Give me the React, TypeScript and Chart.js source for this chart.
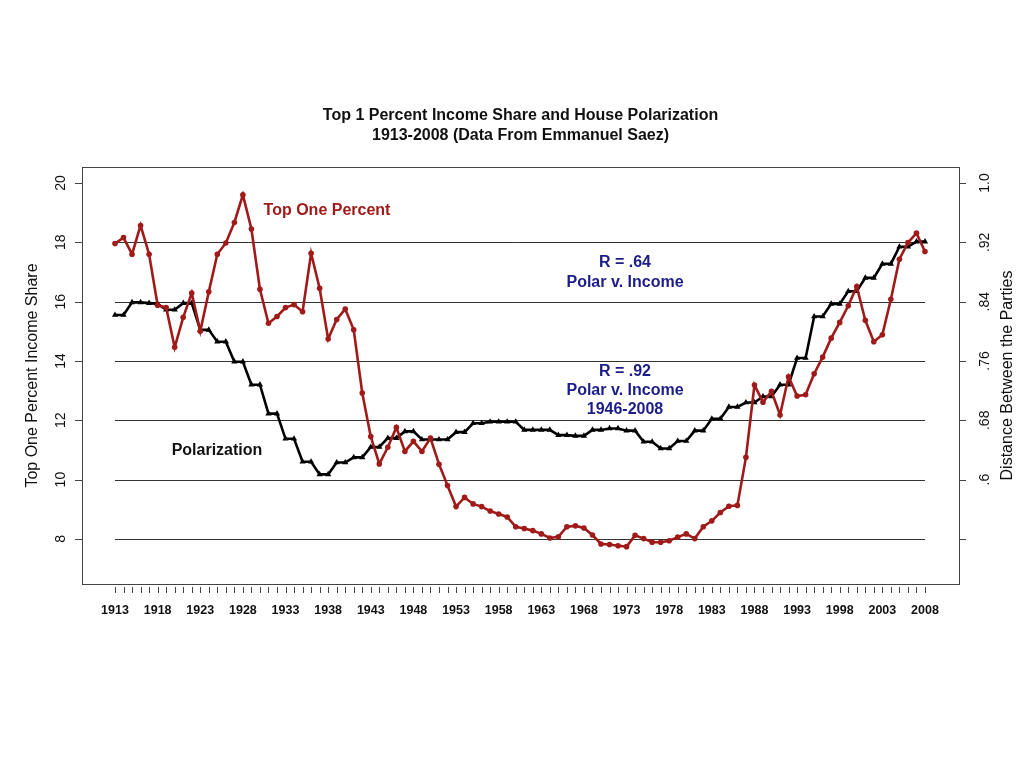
import React, { useEffect, useRef } from "react";
import { Chart, registerables } from "chart.js";

Chart.register(...registerables);

// ---- Data ----
const years: number[] = [];
for (let y = 1913; y <= 2008; y++) years.push(y);

const topOnePercent: number[] = [
  17.96, 18.16, 17.6, 18.57, 17.6, 15.88, 15.8, 14.46, 15.47, 16.29,
  15.0, 16.33, 17.6, 17.98, 18.67, 19.6, 18.45, 16.42, 15.27, 15.5,
  15.8, 15.9, 15.66, 17.63, 16.45, 14.74, 15.4, 15.75, 15.05, 12.92,
  11.45, 10.53, 11.09, 11.76, 10.95, 11.29, 10.95, 11.4, 10.52, 9.8,
  9.09, 9.4, 9.18, 9.09, 8.94, 8.84, 8.74, 8.41, 8.35, 8.28,
  8.17, 8.03, 8.07, 8.41, 8.44, 8.37, 8.13, 7.83, 7.81, 7.77,
  7.74, 8.12, 8.01, 7.89, 7.89, 7.94, 8.06, 8.17, 8.01, 8.41,
  8.61, 8.89, 9.1, 9.13, 10.75, 13.19, 12.61, 12.98, 12.18, 13.47,
  12.82, 12.86, 13.57, 14.13, 14.77, 15.3, 15.86, 16.51, 15.37, 14.65,
  14.88, 16.08, 17.43, 17.99, 18.31, 17.69,
];

// Distance between the parties (House), one value per year
const polarization: number[] = [
  0.822, 0.822, 0.839, 0.839, 0.838, 0.837, 0.829, 0.829, 0.838, 0.838,
  0.802, 0.802, 0.786, 0.786, 0.759, 0.759, 0.728, 0.728, 0.689, 0.689,
  0.655, 0.655, 0.624, 0.624, 0.607, 0.607, 0.623, 0.623, 0.630, 0.630,
  0.644, 0.644, 0.656, 0.656, 0.665, 0.665, 0.654, 0.654, 0.654, 0.654,
  0.664, 0.664, 0.676, 0.676, 0.678, 0.678, 0.678, 0.678, 0.667, 0.667,
  0.667, 0.667, 0.660, 0.660, 0.659, 0.659, 0.667, 0.667, 0.669, 0.669,
  0.666, 0.666, 0.651, 0.651, 0.642, 0.642, 0.652, 0.652, 0.666, 0.666,
  0.682, 0.682, 0.698, 0.698, 0.704, 0.704, 0.712, 0.712, 0.728, 0.728,
  0.764, 0.764, 0.820, 0.820, 0.837, 0.837, 0.854, 0.854, 0.872, 0.872,
  0.891, 0.891, 0.914, 0.914, 0.921, 0.921,
];

const xTickLabels: number[] = [1913, 1918, 1923, 1928, 1933, 1938, 1943, 1948, 1953, 1958, 1963, 1968, 1973, 1978, 1983, 1988, 1993, 1998, 2003, 2008];
const leftTicks: number[] = [8, 10, 12, 14, 16, 18, 20];
const gridValues: number[] = [8, 10, 12, 14, 16, 18];
const rightTicks: number[] = [0.52, 0.6, 0.68, 0.76, 0.84, 0.92, 1.0];
const rightTickLabels: string[] = ["", ".6", ".68", ".76", ".84", ".92", "1.0"];

const RED = "#a11a1a";
const NAVY = "#1c1c8a";
const FONT = "'Liberation Sans', Arial, sans-serif";

const overlay = {
  id: "overlay",
  beforeDatasetsDraw(chart: any) {
    const { ctx, scales } = chart;
    const x = scales.x;
    const y = scales.y;
    ctx.save();
    ctx.strokeStyle = "#333";
    ctx.lineWidth = 1;
    const x0 = x.getPixelForValue(years[0]);
    const x1 = x.getPixelForValue(years[years.length - 1]);
    gridValues.forEach((v) => {
      const py = Math.round(y.getPixelForValue(v)) + 0.5;
      ctx.beginPath();
      ctx.moveTo(x0, py);
      ctx.lineTo(x1, py);
      ctx.stroke();
    });
    ctx.restore();
  },
  afterDraw(chart: any) {
    const { ctx, scales, chartArea } = chart;
    const x = scales.x;
    const y = scales.y;
    const y2 = scales.y2;
    const { left, right, top, bottom } = chartArea;
    ctx.save();
    // box
    ctx.strokeStyle = "#444";
    ctx.lineWidth = 1;
    ctx.strokeRect(left + 0.5, top + 0.5, right - left, bottom - top);

    // x ticks
    ctx.beginPath();
    years.forEach((yr) => {
      const px = Math.round(x.getPixelForValue(yr)) + 0.5;
      ctx.moveTo(px, bottom + 3);
      ctx.lineTo(px, bottom + 9);
    });
    ctx.stroke();
    ctx.fillStyle = "#111";
    ctx.font = `bold 12.5px ${FONT}`;
    ctx.textAlign = "center";
    ctx.textBaseline = "middle";
    xTickLabels.forEach((yr) => {
      ctx.fillText(String(yr), x.getPixelForValue(yr), bottom + 27);
    });

    // left ticks
    ctx.beginPath();
    leftTicks.forEach((v) => {
      const py = Math.round(y.getPixelForValue(v)) + 0.5;
      ctx.moveTo(left - 7, py);
      ctx.lineTo(left, py);
    });
    ctx.stroke();
    ctx.font = `14px ${FONT}`;
    leftTicks.forEach((v) => {
      const py = y.getPixelForValue(v);
      ctx.save();
      ctx.translate(left - 21, py);
      ctx.rotate(-Math.PI / 2);
      ctx.fillText(String(v), 0, 0);
      ctx.restore();
    });

    // right ticks
    ctx.beginPath();
    rightTicks.forEach((v) => {
      const py = Math.round(y2.getPixelForValue(v)) + 0.5;
      ctx.moveTo(right, py);
      ctx.lineTo(right + 7, py);
    });
    ctx.stroke();
    rightTicks.forEach((v, i) => {
      const py = y2.getPixelForValue(v);
      ctx.save();
      ctx.translate(right + 26, py);
      ctx.rotate(-Math.PI / 2);
      ctx.fillText(rightTickLabels[i], 0, 0);
      ctx.restore();
    });

    // axis titles
    ctx.font = `16px ${FONT}`;
    const midY = (top + bottom) / 2;
    ctx.save();
    ctx.translate(33, midY);
    ctx.rotate(-Math.PI / 2);
    ctx.fillText("Top One Percent Income Share", 0, 0);
    ctx.restore();
    ctx.save();
    ctx.translate(1008, midY);
    ctx.rotate(-Math.PI / 2);
    ctx.fillText("Distance Between the Parties", 0, 0);
    ctx.restore();

    // title
    const cx = (left + right) / 2;
    ctx.font = `bold 16px ${FONT}`;
    ctx.fillStyle = "#111";
    ctx.fillText("Top 1 Percent Income Share and House Polarization", cx, 116);
    ctx.fillText("1913-2008 (Data From Emmanuel Saez)", cx, 136);

    // annotations
    ctx.fillStyle = RED;
    ctx.fillText("Top One Percent", 327, 211);
    ctx.fillStyle = "#111";
    ctx.fillText("Polarization", 217, 451);
    ctx.fillStyle = NAVY;
    ctx.fillText("R = .64", 625, 263);
    ctx.fillText("Polar v. Income", 625, 283);
    ctx.fillText("R = .92", 625, 372);
    ctx.fillText("Polar v. Income", 625, 391);
    ctx.fillText("1946-2008", 625, 410);
    ctx.restore();
  },
};

export default function App() {
  const canvasRef = useRef<HTMLCanvasElement | null>(null);

  useEffect(() => {
    if (!canvasRef.current) return;
    const chart = new Chart(canvasRef.current, {
      type: "line",
      data: {
        datasets: [
          {
            label: "Top One Percent",
            data: years.map((yr, i) => ({ x: yr, y: topOnePercent[i] })),
            yAxisID: "y",
            borderColor: RED,
            backgroundColor: RED,
            borderWidth: 2.6,
            pointStyle: "circle",
            pointRadius: 2.8,
            pointBorderWidth: 0,
            pointBackgroundColor: RED,
            tension: 0,
            order: 1,
          },
          {
            label: "Polarization",
            data: years.map((yr, i) => ({ x: yr, y: polarization[i] })),
            yAxisID: "y2",
            borderColor: "#000",
            backgroundColor: "#000",
            borderWidth: 2.6,
            pointStyle: "triangle",
            pointRadius: 3.6,
            pointBorderWidth: 0,
            pointBackgroundColor: "#000",
            tension: 0,
            order: 2,
          },
        ],
      },
      options: {
        responsive: false,
        maintainAspectRatio: false,
        animation: false,
        layout: { padding: { left: 82, top: 167, right: 65, bottom: 184 } },
        plugins: {
          legend: { display: false },
          tooltip: { enabled: false },
          title: { display: false },
        },
        scales: {
          x: { type: "linear", min: 1909.13, max: 2011.99, display: false },
          y: { type: "linear", min: 6.48, max: 20.54, display: false },
          y2: { type: "linear", min: 0.2 + 0.04 * 6.48, max: 0.2 + 0.04 * 20.54, display: false },
        },
      },
      plugins: [overlay],
    });
    return () => chart.destroy();
  }, []);

  return (
    <div style={{ position: "fixed", left: 0, top: 0, width: 1024, height: 768, background: "#fff" }}>
      <canvas ref={canvasRef} width={1024} height={768} style={{ display: "block" }} />
    </div>
  );
}
